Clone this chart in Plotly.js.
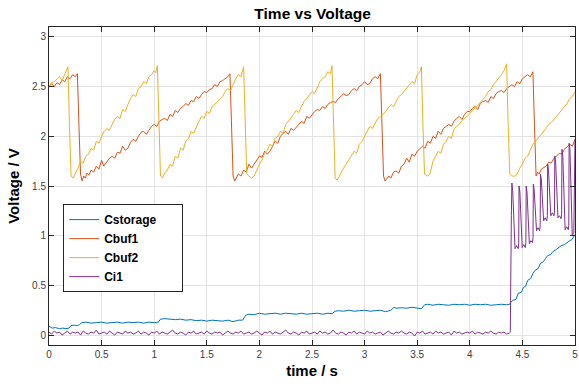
<!DOCTYPE html>
<html>
<head>
<meta charset="utf-8">
<script src="https://cdn.plot.ly/plotly-3.0.1.min.js"></script>
<style>html,body{margin:0;padding:0;background:#fff;}#chart{width:579px;height:384px;}</style>
</head>
<body>
<div id="chart"></div>
<script>
// ---- Cstorage ----
var tStorage = [0,0.03,0.06,0.1,0.13,0.16,0.19,0.21,0.24,0.27,0.29,0.31,0.35,0.4,0.45,0.5,0.55,0.6,0.65,0.7,0.75,0.8,0.85,0.9,0.95,1.0,1.04,1.06,1.1,1.15,1.2,1.25,1.3,1.35,1.4,1.45,1.5,1.55,1.6,1.65,1.7,1.75,1.8,1.84,1.87,1.9,1.95,2.0,2.05,2.1,2.15,2.2,2.25,2.3,2.35,2.4,2.45,2.5,2.55,2.6,2.65,2.69,2.72,2.75,2.8,2.85,2.9,2.95,3.0,3.05,3.1,3.15,3.2,3.25,3.28,3.3,3.35,3.4,3.45,3.5,3.54,3.57,3.6,3.65,3.7,3.75,3.8,3.85,3.9,3.95,4.0,4.05,4.1,4.15,4.2,4.25,4.3,4.35,4.38,4.39,4.41,4.44,4.46,4.49,4.51,4.53,4.55,4.58,4.6,4.62,4.65,4.67,4.7,4.72,4.74,4.77,4.79,4.82,4.85,4.87,4.9,4.92,4.95,4.97,5.0];
var vStorage = [0.09,0.07,0.075,0.065,0.07,0.065,0.07,0.095,0.1,0.095,0.105,0.125,0.13,0.12,0.125,0.13,0.12,0.125,0.13,0.12,0.13,0.125,0.13,0.12,0.13,0.125,0.13,0.16,0.165,0.16,0.155,0.16,0.15,0.155,0.145,0.15,0.14,0.15,0.145,0.14,0.15,0.135,0.15,0.15,0.2,0.21,0.205,0.22,0.21,0.215,0.22,0.21,0.22,0.215,0.21,0.22,0.21,0.215,0.22,0.21,0.22,0.215,0.24,0.245,0.24,0.25,0.24,0.245,0.25,0.24,0.245,0.25,0.235,0.25,0.28,0.27,0.275,0.27,0.28,0.27,0.265,0.305,0.31,0.3,0.31,0.305,0.3,0.31,0.305,0.31,0.3,0.31,0.305,0.31,0.3,0.305,0.31,0.305,0.31,0.33,0.35,0.36,0.42,0.43,0.48,0.49,0.55,0.57,0.62,0.65,0.67,0.72,0.74,0.77,0.8,0.81,0.84,0.86,0.88,0.9,0.91,0.93,0.95,0.96,1.01];

// ---- Cbuf1 ----
var tBuf1 = [0,0.025,0.05,0.075,0.1,0.125,0.15,0.175,0.2,0.225,0.25,0.27,0.285,0.3,0.315,0.33,0.345,0.36,0.38,0.4,0.425,0.45,0.475,0.5,0.52,0.55,0.575,0.6,0.625,0.65,0.675,0.7,0.725,0.75,0.775,0.8,0.825,0.85,0.875,0.9,0.925,0.95,0.975,1.0,1.025,1.05,1.075,1.1,1.125,1.15,1.175,1.2,1.225,1.25,1.275,1.3,1.325,1.35,1.375,1.4,1.425,1.45,1.475,1.5,1.525,1.55,1.575,1.6,1.625,1.65,1.675,1.7,1.72,1.735,1.75,1.765,1.78,
1.8,1.825,1.85,1.875,1.9,1.925,1.95,1.975,2.0,2.025,2.05,2.075,2.1,2.125,2.15,2.175,2.2,2.225,2.25,2.275,2.3,2.325,2.35,2.375,2.4,2.425,2.45,2.475,2.5,2.525,2.55,2.575,2.6,2.625,2.65,2.675,2.7,2.725,2.75,2.775,2.8,2.825,2.85,2.875,2.9,2.925,2.95,2.975,3.0,3.025,3.05,3.075,3.1,3.125,3.15,3.165,3.18,3.195,3.21,3.23,3.25,3.275,3.3,3.325,3.35,3.375,3.4,3.425,3.45,3.475,3.5,3.525,3.55,3.575,3.6,3.625,3.65,3.675,3.7,3.725,3.75,3.775,3.8,3.825,3.85,3.875,3.9,3.925,3.95,3.975,4.0,4.025,4.05,4.075,4.1,4.125,4.15,4.175,4.2,4.225,4.25,4.275,4.3,4.325,4.35,4.375,4.4,4.425,4.45,4.475,4.5,4.525,4.55,4.575,4.6,4.615,4.63,4.645,4.66,4.68,4.7,4.725,4.75,4.775,4.8,4.825,4.85,4.875,4.9,4.925,4.95,4.975,5.0];
var vBuf1 = [2.5,2.53,2.5,2.54,2.52,2.57,2.55,2.6,2.58,2.62,2.6,2.63,2.1,1.62,1.55,1.6,1.58,1.63,1.61,1.66,1.64,1.7,1.67,1.76,1.7,1.74,1.78,1.8,1.78,1.84,1.83,1.9,1.86,1.88,1.94,1.97,1.95,2.0,2.04,2.05,2.02,2.06,2.1,2.12,2.1,2.15,2.17,2.18,2.16,2.22,2.2,2.26,2.24,2.28,2.3,2.33,2.31,2.36,2.35,2.4,2.38,2.42,2.45,2.44,2.47,2.48,2.52,2.5,2.55,2.56,2.58,2.6,2.63,2.1,1.6,1.55,1.58,
1.62,1.6,1.66,1.64,1.72,1.68,1.72,1.77,1.8,1.79,1.85,1.82,1.85,1.9,1.95,1.93,2.0,2.03,2.05,2.02,2.08,2.06,2.09,2.12,2.15,2.13,2.2,2.18,2.22,2.25,2.27,2.26,2.3,2.28,2.32,2.34,2.35,2.34,2.38,2.4,2.43,2.41,2.42,2.46,2.48,2.46,2.5,2.52,2.55,2.52,2.53,2.58,2.6,2.58,2.63,2.1,1.6,1.55,1.57,1.6,1.58,1.64,1.65,1.63,1.7,1.72,1.78,1.74,1.82,1.8,1.85,1.88,1.9,1.88,1.95,1.93,2.0,1.98,2.05,2.02,2.08,2.1,2.12,2.1,2.15,2.18,2.2,2.17,2.22,2.25,2.25,2.28,2.3,2.27,2.33,2.35,2.36,2.34,2.4,2.38,2.43,2.45,2.46,2.44,2.48,2.5,2.52,2.5,2.55,2.53,2.58,2.6,2.62,2.6,2.65,2.1,1.6,1.64,1.62,1.67,1.68,1.7,1.74,1.73,1.78,1.8,1.83,1.82,1.87,1.9,1.92,1.9,1.97];

// ---- Cbuf2 ----
var tBuf2 = [0,0.025,0.05,0.075,0.1,0.125,0.15,0.165,0.18,0.195,0.21,0.23,0.25,0.275,0.3,0.325,0.35,0.375,0.4,0.425,0.45,0.475,0.5,0.525,0.55,0.575,0.6,0.625,0.65,0.675,0.7,0.725,0.75,0.775,0.8,0.825,0.85,0.875,0.9,0.925,0.95,0.975,1.0,1.015,1.03,1.045,1.06,1.08,1.1,1.125,1.15,1.175,1.2,1.225,1.25,1.275,1.3,1.325,1.35,1.375,1.4,1.425,1.45,1.475,1.5,1.525,1.55,1.575,1.6,1.625,1.65,1.675,1.7,1.725,1.75,1.775,1.8,1.825,1.85,1.865,1.88,1.9,1.925,1.95,1.975,2.0,2.025,2.05,2.075,2.1,2.125,2.15,2.175,2.2,2.225,2.25,2.275,2.3,2.325,2.35,2.375,2.4,2.425,2.45,2.475,2.5,2.525,2.55,2.575,2.6,2.625,2.65,2.675,2.69,2.705,2.72,2.74,2.76,2.78,2.8,2.825,2.85,2.875,2.9,2.925,2.95,2.975,3.0,3.025,3.05,3.075,3.1,3.125,3.15,3.175,3.2,3.225,3.25,3.275,3.3,3.325,3.35,3.375,3.4,3.425,3.45,3.475,3.5,3.525,3.54,3.555,3.57,3.6,3.62,3.635,3.65,3.675,3.7,3.725,3.75,3.775,3.8,3.825,3.85,3.875,3.9,3.925,3.95,3.975,4.0,4.025,4.05,4.075,4.1,4.125,4.15,4.175,4.2,4.225,4.25,4.275,4.3,4.325,4.35,4.365,4.38,4.4,4.425,4.45,4.475,4.5,4.525,4.55,4.575,4.6,4.625,4.65,4.675,4.7,4.725,4.75,4.775,4.8,4.825,4.85,4.875,4.9,4.925,4.95,4.975,5.0];
var vBuf2 = [2.5,2.54,2.55,2.58,2.6,2.56,2.62,2.65,2.7,2.1,1.6,1.58,1.62,1.68,1.75,1.73,1.8,1.82,1.88,1.86,1.95,1.93,2.0,2.05,2.08,2.06,2.12,2.17,2.2,2.18,2.27,2.25,2.32,2.38,2.42,2.4,2.48,2.5,2.55,2.53,2.6,2.62,2.66,2.64,2.71,2.1,1.6,1.58,1.63,1.66,1.72,1.7,1.8,1.78,1.88,1.86,1.95,1.97,2.05,2.03,2.1,2.15,2.2,2.18,2.25,2.23,2.3,2.32,2.35,2.37,2.4,2.45,2.48,2.46,2.52,2.58,2.62,2.6,2.7,2.1,1.62,1.6,1.58,1.6,1.67,1.72,1.76,1.83,1.86,1.92,1.9,1.98,2.0,2.05,2.03,2.12,2.15,2.18,2.22,2.26,2.24,2.3,2.35,2.38,2.42,2.45,2.43,2.5,2.55,2.58,2.6,2.65,2.63,2.71,2.1,1.58,1.56,1.6,1.65,1.68,1.72,1.76,1.8,1.85,1.83,1.92,1.95,2.0,2.05,2.1,2.08,2.13,2.18,2.2,2.22,2.25,2.28,2.32,2.3,2.35,2.4,2.42,2.45,2.48,2.52,2.55,2.53,2.62,2.65,2.7,2.1,1.62,1.6,1.62,1.68,1.75,1.8,1.85,1.83,1.92,1.95,2.0,1.98,2.07,2.1,2.12,2.16,2.18,2.2,2.23,2.26,2.28,2.32,2.34,2.38,2.4,2.45,2.47,2.52,2.55,2.58,2.62,2.66,2.73,2.1,1.62,1.6,1.6,1.62,1.68,1.72,1.78,1.8,1.86,1.92,1.95,1.98,2.02,2.05,2.08,2.12,2.14,2.17,2.2,2.23,2.27,2.3,2.33,2.38,2.4,2.45];

// ---- Ci1 ----
var vCi1Flat = [0.03,0.01,0.04,0.02,0.03,0.00,0.02,0.04,0.01,0.03,
0.02,0.03,0.00,0.04,0.02,0.01,0.03,0.02,0.05,0.01,
0.02,0.03,0.01,0.04,0.02,0.00,0.03,0.02,0.01,0.04,
0.02,0.03,0.01,0.02,0.04,0.01,0.03,0.02,0.00,0.03,
0.02,0.04,0.01,0.03,0.02,0.01,0.03,0.05,0.02,0.01,
0.03,0.02,0.00,0.03,0.02,0.04,0.01,0.02,0.03,0.01,
0.04,0.02,0.01,0.03,0.02,0.03,0.00,0.02,0.04,0.02,
0.01,0.03,0.02,0.04,0.01,0.02,0.03,0.01,0.02,0.04,
0.02,0.00,0.03,0.02,0.04,0.01,0.03,0.02,0.01,0.03,
0.05,0.02,0.01,0.03,0.02,0.00,0.03,0.02,0.04,0.01,
0.02,0.03,0.01,0.04,0.02,0.03,0.01,0.02,0.05,0.02,
0.01,0.03,0.02,0.00,0.03,0.02,0.04,0.01,0.03,0.02,
0.01,0.04,0.02,0.03,0.01,0.02,0.03,0.00,0.02,0.04,
0.02,0.01,0.03,0.02,0.04,0.02,0.01,0.03,0.02,-0.01,
0.03,0.02,0.04,0.01,0.02,0.03,0.01,0.04,0.02,0.03,
0.01,0.02,0.03,0.00,0.04,0.02,0.03,0.01,0.02,0.03,
0.02,0.04,0.01,0.03,0.02,0.01,0.03,0.02,0.04,0.02,
0.01,0.03,0.02,0.03,0.01,0.02];
var tCi1Pulse = [4.375,4.385,4.395,4.400,4.408,4.422,4.430,4.445,4.460,4.465,
4.468,4.476,4.490,4.498,4.513,4.528,4.533,
4.536,4.544,4.558,4.566,4.581,4.596,4.601,
4.604,4.612,4.626,4.634,4.649,4.664,4.669,
4.672,4.680,4.694,4.702,4.717,4.732,4.737,
4.740,4.748,4.762,4.770,4.785,4.800,4.805,
4.808,4.816,4.830,4.838,4.853,4.868,4.873,
4.876,4.884,4.898,4.906,4.921,4.936,4.941,
4.944,4.952,4.966,4.974,4.989,4.995,5.0];
var vCi1Pulse = [0.02,0.03,1.2,1.53,1.45,0.97,0.87,0.9,0.87,0.92,
1.50,1.44,0.98,0.88,0.91,0.88,0.93,
1.50,1.44,1.02,0.92,0.95,0.93,0.98,
1.52,1.46,1.12,1.05,1.08,1.05,1.1,
1.62,1.56,1.22,1.15,1.18,1.15,1.2,
1.72,1.66,1.28,1.2,1.23,1.2,1.25,
1.80,1.74,1.27,1.18,1.2,1.17,1.22,
1.87,1.8,1.15,1.06,1.09,1.06,1.1,
1.93,1.87,1.1,1.0,1.03,1.5,1.97];

var seriesNames = ['Cstorage','Cbuf1','Cbuf2','Ci1'];
var xTicks = ['0','0.5','1','1.5','2','2.5','3','3.5','4','4.5','5'];

var cBlue='#0072BD', cOrange='#D95319', cYellow='#EDB120', cPurple='#7E2F8E';
var pad = '\u00A0\u00A0\u00A0\u00A0\u00A0\u00A0';

var traces = [
  {x:tStorage, y:vStorage, name:seriesNames[0]+pad, mode:'lines', line:{color:cBlue,width:1}},
  {x:tBuf1, y:vBuf1, name:seriesNames[1], mode:'lines', line:{color:cOrange,width:1}},
  {x:tBuf2, y:vBuf2, name:seriesNames[2], mode:'lines', line:{color:cYellow,width:1}},
  {y:vCi1Flat, x0:0, dx:0.025, name:seriesNames[3], legendgroup:'ci1', mode:'lines', line:{color:cPurple,width:1}},
  {x:tCi1Pulse, y:vCi1Pulse, name:seriesNames[3], legendgroup:'ci1', showlegend:false, mode:'lines', line:{color:cPurple,width:1}}
];

var axisCommon = {
  showgrid:true, gridcolor:'#e3e3e3', gridwidth:1,
  showline:true, linecolor:'#262626', linewidth:1, mirror:'ticks',
  ticks:'inside', ticklen:5, tickcolor:'#262626', tickwidth:1,
  zeroline:false,
  tickfont:{family:'Liberation Sans, Arial, sans-serif', size:10, color:'#404040'}
};

var layout = {
  width:579, height:384,
  margin:{l:49, r:4, t:27, b:39},
  paper_bgcolor:'#ffffff', plot_bgcolor:'#ffffff',
  font:{family:'Liberation Sans, Arial, sans-serif', color:'#000'},
  title:{text:'Time vs Voltage', font:{size:15.5, weight:'bold', color:'#000'}, x:0.54, xanchor:'center', y:0.965, yanchor:'middle', yref:'container'},
  xaxis:Object.assign({}, axisCommon, {range:[0,5], tickmode:'array', tickvals:[0,0.5,1,1.5,2,2.5,3,3.5,4,4.5,5], ticktext:xTicks,
    title:{text:'time / s', font:{size:15, weight:'bold', color:'#000'}, standoff:6}}),
  yaxis:Object.assign({}, axisCommon, {range:[-0.1,3.1], dtick:0.5, tick0:0,
    title:{text:'Voltage / V', font:{size:15, weight:'bold', color:'#000'}, standoff:8}}),
  showlegend:true,
  legend:{x:0.027, y:0.443, xanchor:'left', yanchor:'top', bgcolor:'#ffffff', bordercolor:'#262626', borderwidth:1,
    font:{size:12, weight:'bold', color:'#000'}, tracegroupgap:0}
};

Plotly.newPlot('chart', traces, layout, {displayModeBar:false, staticPlot:true});
</script>
</body>
</html>
